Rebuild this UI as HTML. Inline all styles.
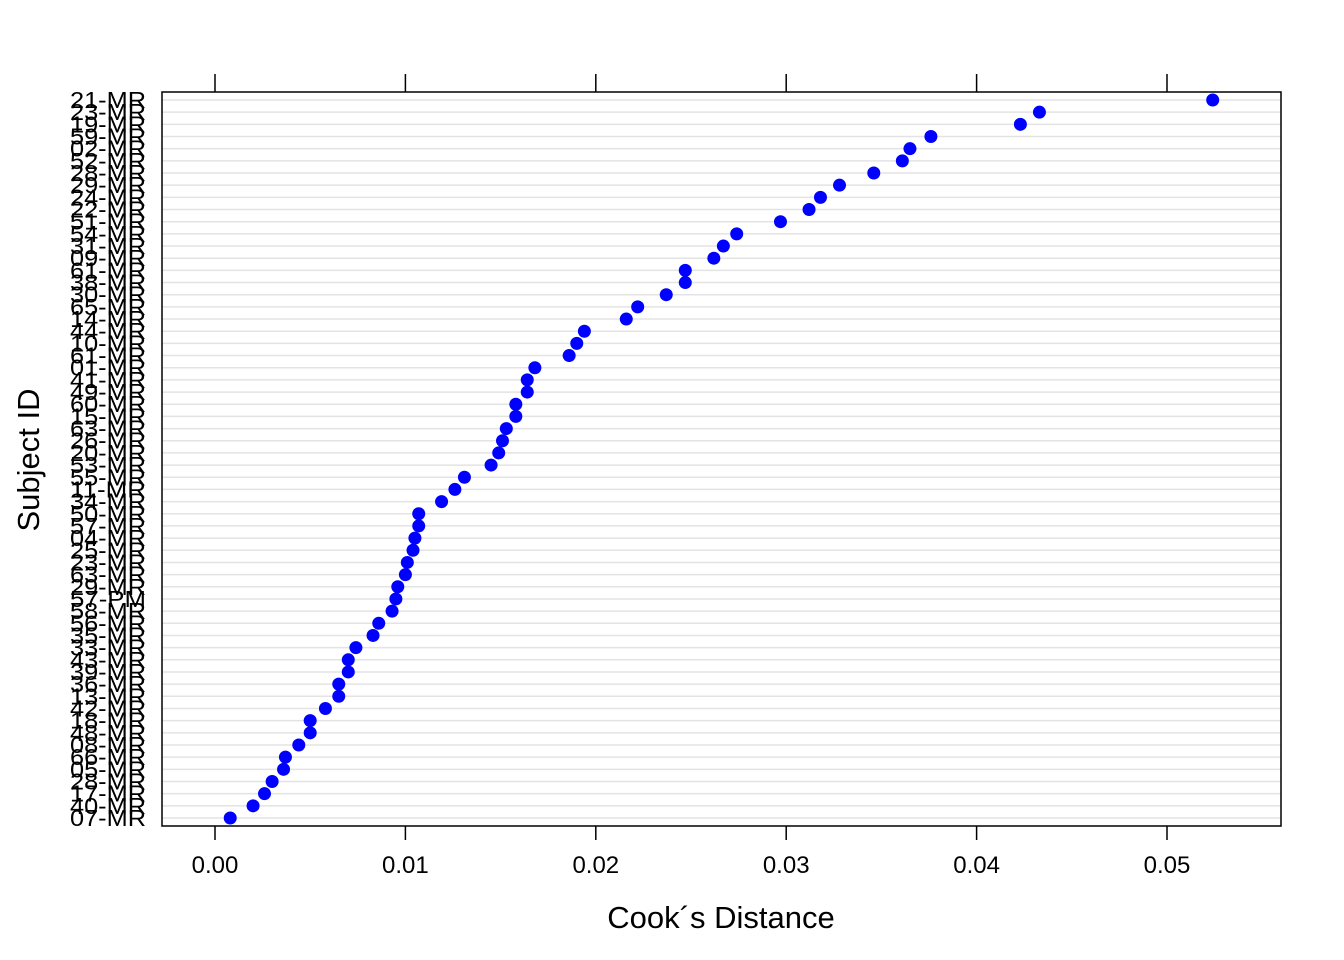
<!DOCTYPE html>
<html><head><meta charset="utf-8"><style>
html,body{margin:0;padding:0;background:#fff;}
svg{display:block;font-family:"Liberation Sans",Arial,sans-serif;}
</style></head><body>
<svg id="chart" width="1344" height="960">
<g id="grid"></g>
<g id="dots"></g>
<g id="ylabels"></g>
<g id="xaxis"></g>
<rect x="162" y="92" width="1119" height="734" fill="none" stroke="#000" stroke-width="1.5"/>
<text x="721" y="928" font-size="31" text-anchor="middle">Cook´s Distance</text>
<text transform="translate(39,460) rotate(-90)" font-size="31" text-anchor="middle">Subject ID</text>
</svg>
<script>
const subjects = ["21-MR","23-MR","19-MR","59-MR","02-MR","52-MR","28-MR","29-MR","24-MR","22-MR","51-MR","54-MR","31-MR","09-MR","61-MR","38-MR","30-MR","65-MR","14-MR","44-MR","10-MR","61-MR","01-MR","41-MR","49-MR","60-MR","15-MR","63-MR","26-MR","20-MR","53-MR","55-MR","11-MR","34-MR","50-MR","57-MR","04-MR","25-MR","23-MR","63-MR","29-MR","57-PM","58-MR","56-MR","35-MR","33-MR","43-MR","39-MR","36-MR","13-MR","42-MR","18-MR","48-MR","08-MR","66-MR","05-MR","28-MR","17-MR","40-MR","07-MR"];
const cooks = [0.0524,0.0433,0.0423,0.0376,0.0365,0.0361,0.0346,0.0328,0.0318,0.0312,0.0297,0.0274,0.0267,0.0262,0.0247,0.0247,0.0237,0.0222,0.0216,0.0194,0.0190,0.0186,0.0168,0.0164,0.0164,0.0158,0.0158,0.0153,0.0151,0.0149,0.0145,0.0131,0.0126,0.0119,0.0107,0.0107,0.0105,0.0104,0.0101,0.0100,0.0096,0.0095,0.0093,0.0086,0.0083,0.0074,0.0070,0.0070,0.0065,0.0065,0.0058,0.0050,0.0050,0.0044,0.0037,0.0036,0.0030,0.0026,0.0020,0.0008];
const xTicks = [0,0.01,0.02,0.03,0.04,0.05];
const xTickLabels = ["0.00","0.01","0.02","0.03","0.04","0.05"];
</script>
<script>
const NS="http://www.w3.org/2000/svg";
const x = v => 215 + v*19040;
const n = cooks.length;
const y = i => 100 + i*(818-100)/(n-1);
function mk(tag, attrs, parent){const e=document.createElementNS(NS,tag);for(const k in attrs)e.setAttribute(k,attrs[k]);parent.appendChild(e);return e;}
const grid=document.getElementById('grid'),dots=document.getElementById('dots'),yl=document.getElementById('ylabels'),xa=document.getElementById('xaxis');
for(let i=0;i<n;i++){
  const g=mk('line',{x1:162,x2:1281,y1:y(i),y2:y(i),stroke:'#e3e3e3','stroke-width':1.5},grid);
  
  
  const c=mk('circle',{cx:x(cooks[i]),cy:y(i),r:6.5,fill:'#0000ff'},dots);
  
  
  const t=mk('text',{x:146,y:y(i)+8,'font-size':23,'text-anchor':'end',textLength:76,lengthAdjust:'spacingAndGlyphs'},yl);
  t.textContent=subjects[i];
  
  
}
xTicks.forEach((v,k)=>{
  const a=mk('line',{x1:x(v),x2:x(v),y1:74,y2:92,stroke:'#000','stroke-width':1.5},xa);
  
  
  const b=mk('line',{x1:x(v),x2:x(v),y1:826,y2:840,stroke:'#000','stroke-width':1.5},xa);
  
  
  const t=mk('text',{x:x(v),y:873,'font-size':24,'text-anchor':'middle'},xa);
  t.textContent=xTickLabels[k];
  
  
});
</script>
</body></html>
